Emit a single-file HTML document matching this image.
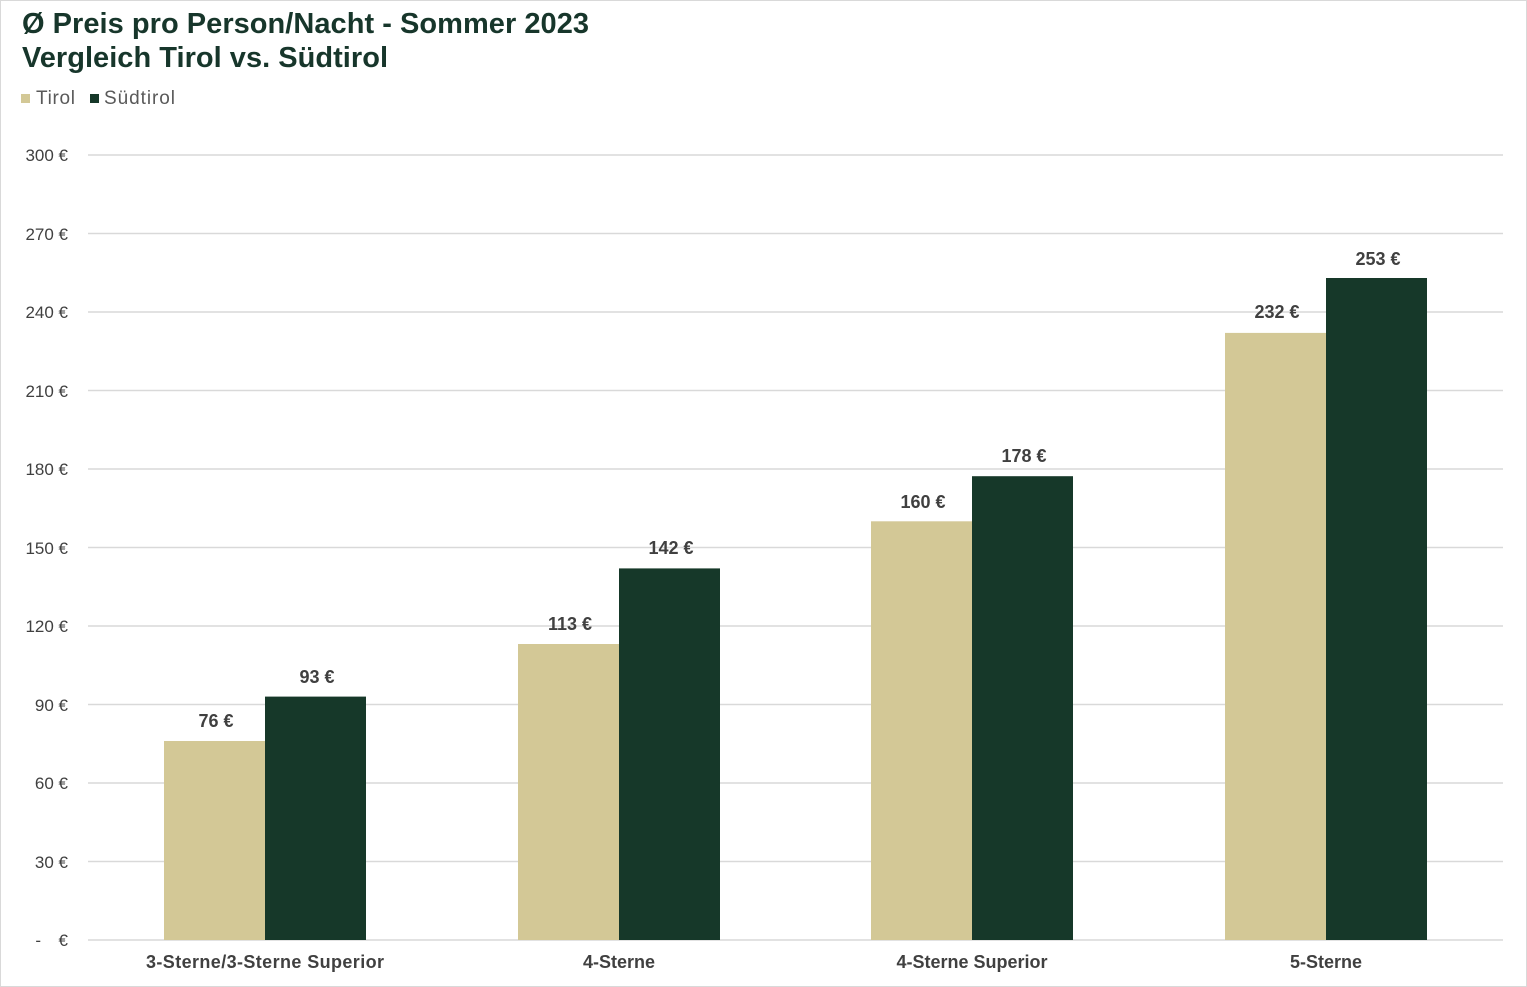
<!DOCTYPE html>
<html><head><meta charset="utf-8"><style>html,body{margin:0;padding:0;background:#fff}svg{display:block}</style></head><body>
<svg width="1527" height="987" xmlns="http://www.w3.org/2000/svg" font-family="Liberation Sans, Arial, sans-serif">
<rect x="0.5" y="0.5" width="1526" height="986" fill="#fff" stroke="#d9d9d9"/>
<text x="22" y="33" font-size="29" font-weight="bold" fill="#17362b" textLength="567">Ø Preis pro Person/Nacht - Sommer 2023</text>
<text x="22" y="67" font-size="29" font-weight="bold" fill="#17362b" textLength="366">Vergleich  Tirol vs. Südtirol</text>
<rect x="21" y="94" width="9" height="9" fill="#d3c896"/>
<text x="36" y="104" font-size="19" fill="#595959" textLength="39">Tirol</text>
<rect x="90" y="94" width="9" height="9" fill="#163829"/>
<text x="104" y="104" font-size="19" fill="#595959" textLength="71">Südtirol</text>
<g stroke="#d9d9d9" stroke-width="1.5">
<line x1="88" x2="1503" y1="155" y2="155"/><line x1="88" x2="1503" y1="233.5" y2="233.5"/><line x1="88" x2="1503" y1="312" y2="312"/><line x1="88" x2="1503" y1="390.5" y2="390.5"/><line x1="88" x2="1503" y1="469" y2="469"/><line x1="88" x2="1503" y1="547.5" y2="547.5"/><line x1="88" x2="1503" y1="626" y2="626"/><line x1="88" x2="1503" y1="704.5" y2="704.5"/><line x1="88" x2="1503" y1="783" y2="783"/><line x1="88" x2="1503" y1="861.5" y2="861.5"/><line x1="88" x2="1503" y1="940" y2="940"/>
</g>
<g font-size="17" fill="#404040" text-anchor="end">
<text x="68" y="161">300 €</text><text x="68" y="240">270 €</text><text x="68" y="318">240 €</text><text x="68" y="397">210 €</text><text x="68" y="475">180 €</text><text x="68" y="554">150 €</text><text x="68" y="632">120 €</text><text x="68" y="711">90 €</text><text x="68" y="789">60 €</text><text x="68" y="868">30 €</text><text x="68" y="946">€</text><text x="41" y="946">-</text>
</g>
<g fill="#d3c896">
<rect x="164" y="741" width="101" height="199"/><rect x="518" y="644" width="101" height="296"/><rect x="871" y="521.3" width="101" height="418.7"/><rect x="1225" y="332.9" width="101" height="607.1"/>
</g>
<g fill="#163829">
<rect x="265" y="696.6" width="101" height="243.4"/><rect x="619" y="568.4" width="101" height="371.6"/><rect x="972" y="476.2" width="101" height="463.8"/><rect x="1326" y="278" width="101" height="662"/>
</g>
<g font-size="18" font-weight="bold" fill="#404040" text-anchor="middle">
<text x="216" y="727">76 €</text><text x="317" y="683">93 €</text>
<text x="570" y="630">113 €</text><text x="671" y="554">142 €</text>
<text x="923" y="508">160 €</text><text x="1024" y="462">178 €</text>
<text x="1277" y="318">232 €</text><text x="1378" y="265">253 €</text>
</g>
<g font-size="18" font-weight="bold" fill="#404040" text-anchor="middle">
<text x="265" y="968" textLength="238">3-Sterne/3-Sterne Superior</text><text x="619" y="968">4-Sterne</text><text x="972" y="968">4-Sterne Superior</text><text x="1326" y="968">5-Sterne</text>
</g>
</svg>
</body></html>
